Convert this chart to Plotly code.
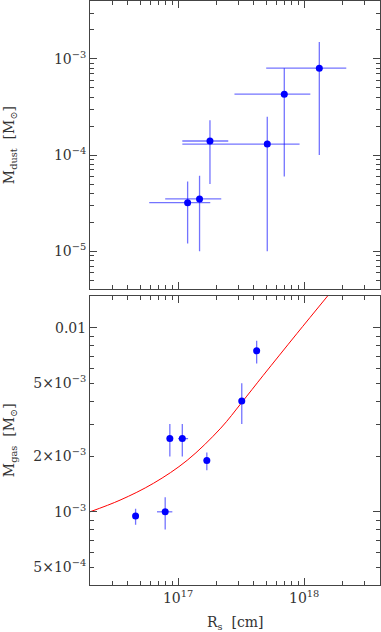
import plotly.graph_objects as go

# ---- Top panel: dust mass vs radius ----
R_dust = [1.19e17, 1.48e17, 1.79e17, 5.1e17, 6.96e17, 1.32e18]
R_dust_lo = [5.9e16, 7.9e16, 1.08e17, 1.08e17, 2.8e17, 5.0e17]
R_dust_hi = [1.8e17, 2.2e17, 2.5e17, 9.2e17, 1.12e18, 2.16e18]
M_dust = [3.2e-5, 3.5e-5, 1.4e-4, 1.3e-4, 4.3e-4, 8.0e-4]
M_dust_lo = [1.2e-5, 1.0e-5, 5.0e-5, 1.0e-5, 6.0e-5, 1.0e-4]
M_dust_hi = [5.3e-5, 6.1e-5, 2.3e-4, 2.5e-4, 8.0e-4, 1.5e-3]

# ---- Bottom panel: gas mass vs radius ----
R_gas = [4.6e16, 7.9e16, 8.6e16, 1.08e17, 1.69e17, 3.2e17, 4.2e17]
R_gas_lo = [4.6e16, 6.8e16, 8.6e16, 1.0e17, 1.69e17, 3.2e17, 4.2e17]
R_gas_hi = [4.6e16, 9.0e16, 8.6e16, 1.2e17, 1.69e17, 3.2e17, 4.2e17]
M_gas = [9.5e-4, 1.0e-3, 2.5e-3, 2.5e-3, 1.9e-3, 4.0e-3, 7.5e-3]
M_gas_lo = [8.5e-4, 8.0e-4, 2.0e-3, 2.0e-3, 1.68e-3, 3.0e-3, 6.4e-3]
M_gas_hi = [1.04e-3, 1.2e-3, 3.0e-3, 3.0e-3, 2.1e-3, 5.0e-3, 8.5e-3]

# ---- Model curve ----
R_fit = [2.0e16, 3.46e16, 6.39e16, 1.18e17, 2.18e17, 3.19e17, 4.72e17, 8.75e17, 1.56e18]
M_fit = [1.0e-3, 1.157e-3, 1.43e-3, 1.905e-3, 2.85e-3, 3.92e-3, 5.5e-3, 9.3e-3, 1.51e-2]

# ---- Ticks ----
x_major = [1e17, 1e18]
x_major_text = ["10<sup>17</sup>", "10<sup>18</sup>"]
x_minor = [3e16, 4e16, 5e16, 6e16, 7e16, 8e16, 9e16,
           2e17, 3e17, 4e17, 5e17, 6e17, 7e17, 8e17, 9e17, 2e18, 3e18]
yd_major = [1e-5, 1e-4, 1e-3]
yd_major_text = ["10<sup>−5</sup>", "10<sup>−4</sup>", "10<sup>−3</sup>"]
yd_minor = [5e-6, 6e-6, 7e-6, 8e-6, 9e-6,
            2e-5, 3e-5, 4e-5, 5e-5, 6e-5, 7e-5, 8e-5, 9e-5,
            2e-4, 3e-4, 4e-4, 5e-4, 6e-4, 7e-4, 8e-4, 9e-4, 2e-3, 3e-3]
yg_labels = [5e-4, 1e-3, 2e-3, 5e-3, 1e-2]
yg_labels_text = ["5×10<sup>−4</sup>", "10<sup>−3</sup>", "2×10<sup>−3</sup>", "5×10<sup>−3</sup>", "0.01"]
yg_decades = [1e-3, 1e-2]
yg_minor = [6e-4, 7e-4, 8e-4, 9e-4, 3e-3, 4e-3, 6e-3, 7e-3, 8e-3, 9e-3]

FONT = "DejaVu Serif"
TXT = "#333333"
LINE = "#444444"
PT = "#0000ff"
ERR = "rgba(0,0,255,0.55)"


def errs(v, lo, hi):
    return [h - c for c, h in zip(v, hi)], [c - l for c, l in zip(v, lo)]


fig = go.Figure()

exp, exm = errs(R_dust, R_dust_lo, R_dust_hi)
eyp, eym = errs(M_dust, M_dust_lo, M_dust_hi)
fig.add_trace(go.Scatter(
    x=R_dust, y=M_dust, mode="markers", xaxis="x", yaxis="y",
    marker=dict(color=PT, size=7),
    error_x=dict(type="data", symmetric=False, array=exp, arrayminus=exm,
                 color=ERR, thickness=1.3, width=0),
    error_y=dict(type="data", symmetric=False, array=eyp, arrayminus=eym,
                 color=ERR, thickness=1.3, width=0),
    showlegend=False))

fig.add_trace(go.Scatter(
    x=R_fit, y=M_fit, mode="lines", xaxis="x2", yaxis="y2",
    line=dict(color="#ff0000", width=1, shape="spline", smoothing=1), showlegend=False))

exp, exm = errs(R_gas, R_gas_lo, R_gas_hi)
eyp, eym = errs(M_gas, M_gas_lo, M_gas_hi)
fig.add_trace(go.Scatter(
    x=R_gas, y=M_gas, mode="markers", xaxis="x2", yaxis="y2",
    marker=dict(color=PT, size=7),
    error_x=dict(type="data", symmetric=False, array=exp, arrayminus=exm,
                 color=ERR, thickness=1.3, width=0),
    error_y=dict(type="data", symmetric=False, array=eyp, arrayminus=eym,
                 color=ERR, thickness=1.3, width=0),
    showlegend=False))

# dummy empty trace so the overlay axis (long decade ticks) is drawn
fig.add_trace(go.Scatter(x=[], y=[], xaxis="x2", yaxis="y3", showlegend=False))

common = dict(type="log", showline=True, linecolor=LINE, linewidth=1, mirror="ticks",
              ticks="inside", tickcolor=LINE, showgrid=False, zeroline=False, automargin=False,
              tickfont=dict(family=FONT, size=14, color=TXT))

XR = [16.301, 18.602]
fig.update_layout(
    template="none",
    width=381, height=632, autosize=False,
    margin=dict(l=90, r=1, t=1, b=47, autoexpand=False),
    paper_bgcolor="white", plot_bgcolor="white",
    xaxis=dict(common, domain=[0, 1], anchor="y", range=XR,
               tickvals=x_major, ticktext=x_major_text, ticklen=7, showticklabels=False,
               minor=dict(tickvals=x_minor, ticklen=4, ticks="inside", tickcolor=LINE)),
    yaxis=dict(common, domain=[0.506, 1], anchor="x", range=[-5.398, -2.398],
               tickvals=yd_major, ticktext=yd_major_text, ticklen=7,
               minor=dict(tickvals=yd_minor, ticklen=4, ticks="inside", tickcolor=LINE)),
    xaxis2=dict(common, domain=[0, 1], anchor="y2", range=XR,
                tickvals=x_major, ticktext=x_major_text, ticklen=7,
                minor=dict(tickvals=x_minor, ticklen=4, ticks="inside", tickcolor=LINE)),
    yaxis2=dict(common, domain=[0, 0.4957], anchor="x2", range=[-3.398, -1.824],
                tickvals=yg_labels, ticktext=yg_labels_text, ticklen=4,
                minor=dict(tickvals=yg_minor, ticklen=4, ticks="inside", tickcolor=LINE)),
    yaxis3=dict(type="log", overlaying="y2", anchor="x2", side="left", range=[-3.398, -1.824],
                showline=False, showgrid=False, zeroline=False, mirror="ticks", automargin=False,
                ticks="inside", tickcolor=LINE, ticklen=7, tickvals=yg_decades,
                showticklabels=False),
    annotations=[
        dict(text="M<sub>dust</sub>  [M<sub>⊙</sub>]", textangle=-90, xref="paper", yref="paper",
             x=-0.276, y=0.753, xanchor="center", yanchor="middle", showarrow=False,
             font=dict(family=FONT, size=14, color=TXT)),
        dict(text="M<sub>gas</sub>  [M<sub>⊙</sub>]", textangle=-90, xref="paper", yref="paper",
             x=-0.276, y=0.248, xanchor="center", yanchor="middle", showarrow=False,
             font=dict(family=FONT, size=14, color=TXT)),
        dict(text="R<sub>s</sub>  [cm]", xref="paper", yref="paper",
             x=0.503, y=-0.065, xanchor="center", yanchor="middle", showarrow=False,
             font=dict(family=FONT, size=14, color=TXT)),
    ],
)

fig.write_html("out.html", config={"responsive": False, "displayModeBar": False},
               post_script="document.body.style.margin='0';document.body.style.overflow='hidden';")
